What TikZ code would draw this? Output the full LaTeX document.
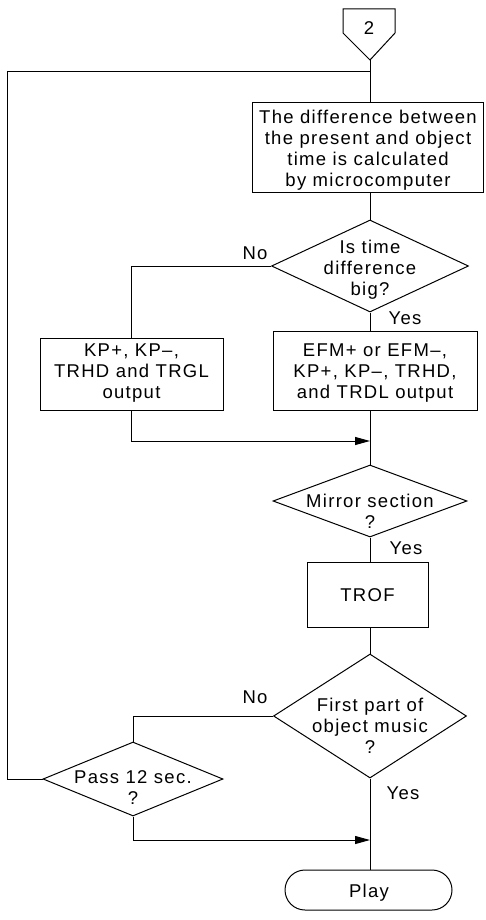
\documentclass[tikz,border=0pt]{standalone}
\usepackage{fontspec}
\setmainfont{Liberation Sans}[LetterSpace=7]
\usetikzlibrary{shapes.geometric,shapes.misc,arrows.meta,calc}
\begin{document}
\begin{tikzpicture}[x=1pt,y=-1pt,
  every node/.style={font=\fontsize{18.5}{21}\selectfont},
  box/.style={draw, line width=1pt, rectangle, inner sep=0pt, align=center},
  dec/.style={draw, line width=1pt, diamond, inner sep=0pt},
  txt/.style={align=center, inner sep=0pt},
  lbl/.style={inner sep=0pt},
  line/.style={draw, line width=1pt},
  arr/.style={line, -{Triangle[length=15pt,width=8pt]}},
]
\useasboundingbox (0,0) rectangle (485,920);

% off-page connector
\node[lbl] (c2) at (369,28) {2};
\coordinate (c2tip) at (370,60);
\draw[line] (343,9) -- (343,33) -- (c2tip) -- (395,33) -- (395,9) -- cycle;
\coordinate (j1) at (370,72);
\coordinate (lp) at (7,72);

% process box
\node[box, minimum width=231pt, minimum height=89pt] (box1) at (368,147.5) {};
\node[txt] (box1t) at (368,150) {The difference between\\the present and object\\time is calculated\\by microcomputer};

% decision 1
\node[dec, minimum width=197pt, minimum height=92pt] (d1) at (370,266) {};
\node[txt] (d1t) at (370,270) {Is time\\difference\\big?};
\node[lbl] (no1) at (255,253) {No};
\node[lbl] (yes1) at (405,318) {Yes};

\node[box, minimum width=183pt, minimum height=72pt] (kp) at (131.5,374) {};
\node[txt] (kpt) at (131.5,373) {KP+, KP–,\\TRHD and TRGL\\output};
\node[box, minimum width=204pt, minimum height=79pt] (efm) at (375,370.5) {};
\node[txt] (efmt) at (375,373) {EFM+ or EFM–,\\KP+, KP–, TRHD,\\and TRDL output};
\coordinate (m1) at (370,441);

% decision 2
\node[dec, minimum width=194pt, minimum height=72pt] (d2) at (370,501) {};
\node[txt] (d2t) at (370,511) {Mirror section\\?};
\node[lbl] (yes2) at (406,548) {Yes};

\node[box, minimum width=121pt, minimum height=65pt] (trof) at (367.5,594.5) {};
\node[txt] (troft) at (367.5,595) {TROF};

% decision 3
\node[dec, minimum width=193pt, minimum height=124pt] (d3) at (370,716) {};
\node[txt] (d3t) at (370,726) {First part of\\object music\\?};
\node[lbl] (no2) at (255,697) {No};
\node[lbl] (yes3) at (403,793) {Yes};

% decision 4
\node[dec, minimum width=180pt, minimum height=74pt] (d4) at (133,779) {};
\node[txt] (d4t) at (133,788) {Pass 12 sec.\\?};
\coordinate (m2) at (370,840);

% terminal
\node[draw, line width=1pt, rounded rectangle, minimum width=167pt, minimum height=40pt, inner sep=0pt] (play) at (368.5,890) {};
\node[txt] (playt) at (369,893) {Play};

% connectors
\draw[line] (c2tip) -- (c2tip |- box1.north);
\draw[line] (lp) -- (j1);
\draw[line] (d1.north |- box1.south) -- (d1.north);
\draw[line] (d1.west) -| (kp.north);
\draw[line] (d1.south) -- (d1.south |- efm.north);
\draw[arr] (kp.south) |- (m1);
\draw[line] (d1.south |- efm.south) -- (d2.north);
\draw[line] (d2.south) -- (d2.south |- trof.north);
\draw[line] (d2.south |- trof.south) -- (d3.north);
\draw[line] (d3.west) -| (d4.north);
\draw[line] (d3.south) -- (d3.south |- play.north);
\draw[arr] (d4.south) |- (m2);
\draw[line] (d4.west) -| (lp);
\end{tikzpicture}
\end{document}
